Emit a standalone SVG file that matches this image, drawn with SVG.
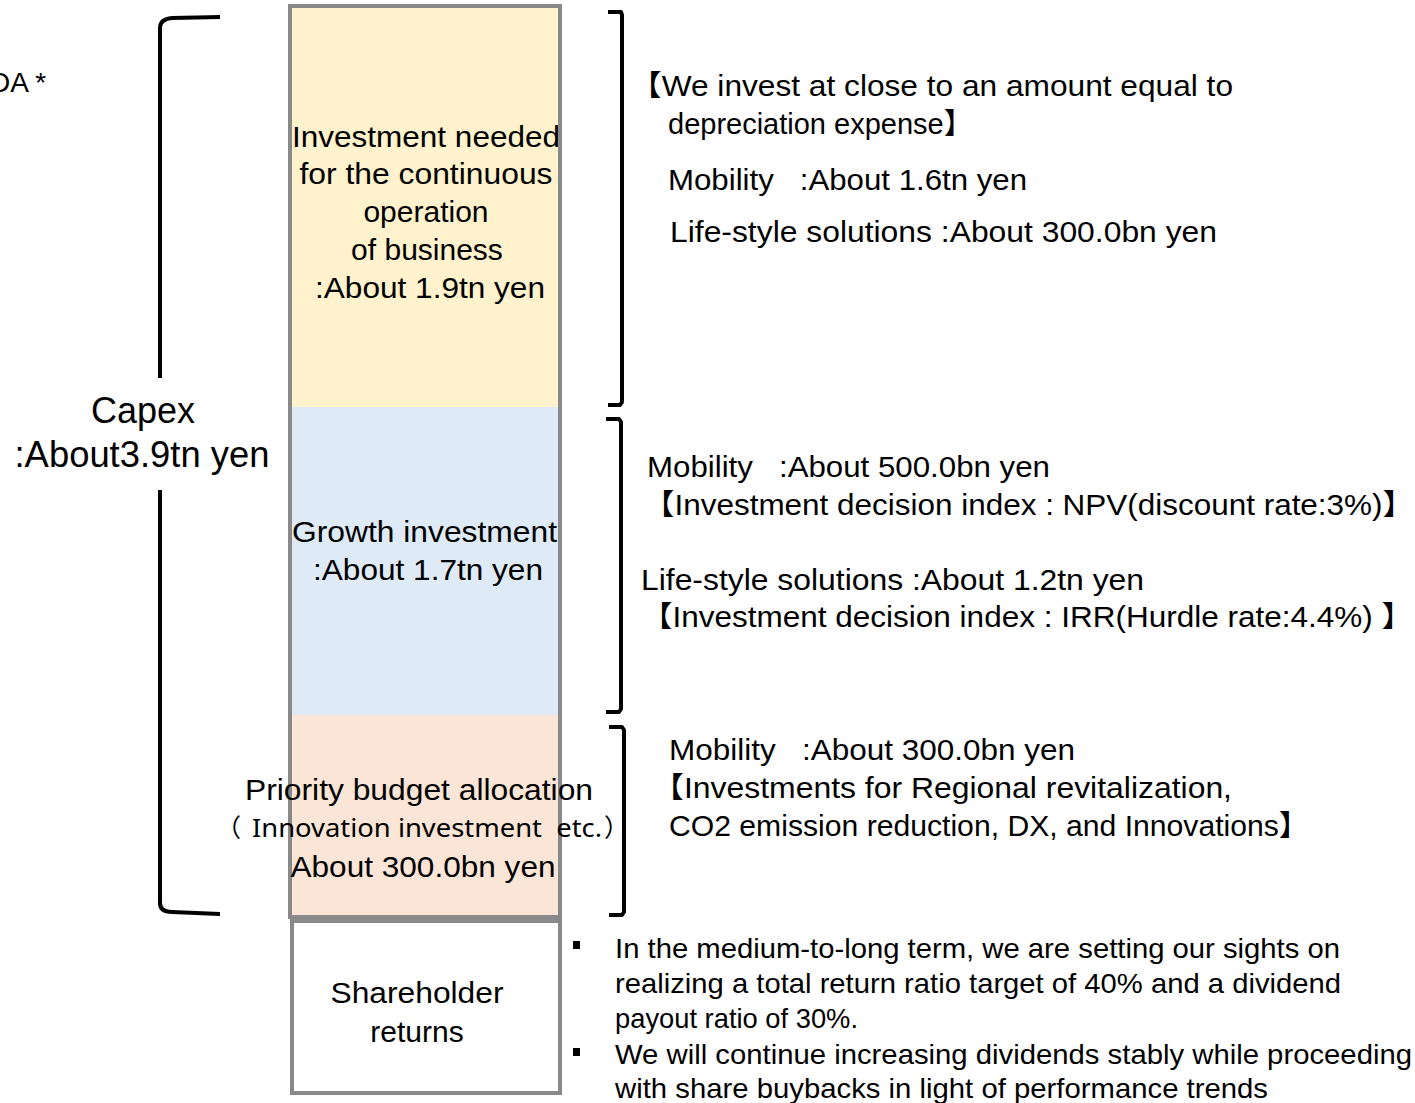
<svg xmlns="http://www.w3.org/2000/svg" width="1415" height="1103" viewBox="0 0 1415 1103">
<style>
text{font-family:"Liberation Sans",Arial,"Noto Sans CJK JP",sans-serif;fill:#000;white-space:pre}
.bx{font-size:30px;text-anchor:middle}
.rt{font-size:29px}
.bl{font-size:28px}
.cap{font-size:36px;text-anchor:middle}
.sm{font-size:25px;font-family:"Noto Sans","Noto Sans CJK JP",sans-serif}
.brk{fill:none;stroke:#000;stroke-width:4;stroke-linejoin:round;stroke-linecap:butt}
.frame{fill:none;stroke:#898989;stroke-width:4}
</style>
<rect width="1415" height="1103" fill="#fff"/>

<g id="ebitda-label"><text x="-10" y="92" style="font-size:28px">DA *</text></g>

<g id="capex-label">
<text class="cap" x="143" y="423">Capex</text>
<text class="cap" x="142" y="467" textLength="255" lengthAdjust="spacingAndGlyphs">:About3.9tn yen</text>
</g>

<g id="node-maintenance">
<rect x="292" y="8" width="266" height="399" fill="#FFF2CC"/>
<text class="bx" x="426" y="147" textLength="268" lengthAdjust="spacingAndGlyphs">Investment needed</text>
<text class="bx" x="426" y="184" textLength="253" lengthAdjust="spacingAndGlyphs">for the continuous</text>
<text class="bx" x="426" y="222">operation</text>
<text class="bx" x="427" y="260">of business</text>
<text class="bx" x="430" y="298" textLength="230" lengthAdjust="spacingAndGlyphs">:About 1.9tn yen</text>
</g>

<g id="node-growth">
<rect x="292" y="407" width="266" height="308" fill="#DEEAF6"/>
<text class="bx" x="424.5" y="542" textLength="265" lengthAdjust="spacingAndGlyphs">Growth investment</text>
<text class="bx" x="428" y="580" textLength="230" lengthAdjust="spacingAndGlyphs">:About 1.7tn yen</text>
</g>

<g id="node-priority">
<rect x="292" y="715" width="270" height="202" fill="#FBE5D6"/>
<rect class="frame" x="290" y="6" width="270" height="911"/>
<text class="bx" x="419" y="800" textLength="348" lengthAdjust="spacingAndGlyphs">Priority budget allocation</text>
<text class="sm" x="216" y="837">（</text>
<text class="sm" x="252" y="837" textLength="350" lengthAdjust="spacingAndGlyphs">Innovation investment  etc.</text>
<text class="sm" x="604" y="837">）</text>
<text class="bx" x="423" y="877" textLength="265" lengthAdjust="spacingAndGlyphs">About 300.0bn yen</text>
</g>

<g id="node-shareholder">
<rect class="frame" x="292" y="921" width="268" height="172" fill="#fff"/>
<text class="bx" x="417" y="1003" textLength="173" lengthAdjust="spacingAndGlyphs">Shareholder</text>
<text class="bx" x="417" y="1042">returns</text>
</g>

<g id="note-maintenance">
<text class="rt" x="630" y="96" textLength="603" lengthAdjust="spacingAndGlyphs">【We invest at close to an amount equal to</text>
<text class="rt" x="668" y="134">depreciation expense】</text>
<text class="rt" x="668" y="190" textLength="359" lengthAdjust="spacingAndGlyphs">Mobility   :About 1.6tn yen</text>
<text class="rt" x="670" y="242" textLength="547" lengthAdjust="spacingAndGlyphs">Life-style solutions :About 300.0bn yen</text>
</g>

<g id="note-growth">
<text class="rt" x="647" y="477" textLength="403" lengthAdjust="spacingAndGlyphs">Mobility   :About 500.0bn yen</text>
<text class="rt" x="643" y="515" textLength="771" lengthAdjust="spacingAndGlyphs">【Investment decision index : NPV(discount rate:3%)】</text>
<text class="rt" x="641" y="590" textLength="503" lengthAdjust="spacingAndGlyphs">Life-style solutions :About 1.2tn yen</text>
<text class="rt" x="641" y="627" textLength="772" lengthAdjust="spacingAndGlyphs">【Investment decision index : IRR(Hurdle rate:4.4%) 】</text>
</g>

<g id="note-priority">
<text class="rt" x="669" y="760" textLength="406" lengthAdjust="spacingAndGlyphs">Mobility   :About 300.0bn yen</text>
<text class="rt" x="652" y="798" textLength="580" lengthAdjust="spacingAndGlyphs">【Investments for Regional revitalization,</text>
<text class="rt" x="669" y="836" textLength="640" lengthAdjust="spacingAndGlyphs">CO2 emission reduction, DX, and Innovations】</text>
</g>

<g id="note-shareholder">
<rect x="573" y="941" width="7" height="8" fill="#000"/>
<rect x="573" y="1048" width="7" height="8" fill="#000"/>
<text class="bl" x="615" y="958" textLength="725" lengthAdjust="spacingAndGlyphs">In the medium-to-long term, we are setting our sights on</text>
<text class="bl" x="615" y="993" textLength="726" lengthAdjust="spacingAndGlyphs">realizing a total return ratio target of 40% and a dividend</text>
<text class="bl" x="615" y="1028" textLength="243" lengthAdjust="spacingAndGlyphs">payout ratio of 30%.</text>
<text class="bl" x="615" y="1064" textLength="797" lengthAdjust="spacingAndGlyphs">We will continue increasing dividends stably while proceeding</text>
<text class="bl" x="615" y="1098" textLength="653" lengthAdjust="spacingAndGlyphs">with share buybacks in light of performance trends</text>
</g>

<g id="connectors">
<path class="brk" d="M220 17 L172 18 Q160 19 160 28 L160 378"/>
<path class="brk" d="M160 490 L160 903 Q160 912 172 912 L220 914"/>
<path class="brk" d="M608 12 L621 12 L622 15 L622 402 L620 405 L608 405"/>
<path class="brk" d="M606 419 L619 419 L621 422 L621 709 L619 712 L606 712"/>
<path class="brk" d="M609 727 L622 727 L624 730 L624 912 L622 915 L609 915"/>
</g>
</svg>
